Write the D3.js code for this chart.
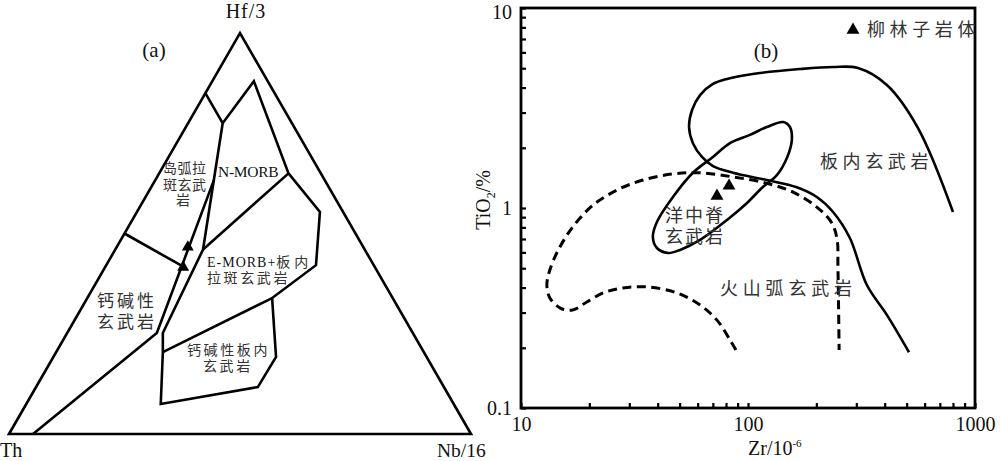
<!DOCTYPE html>
<html><head><meta charset="utf-8">
<script src="https://cdn.jsdelivr.net/npm/d3@7/dist/d3.min.js"></script>
<style>
body{margin:0;background:#fff;}
svg{display:block;}
.lat{font-family:"Liberation Serif","Times New Roman",serif;fill:#111;}
.cjk{font-family:"Noto Sans CJK SC",sans-serif;fill:#333;}
</style></head>
<body><svg id="c" width="1000" height="461"></svg>
<script>
// ---------- (a) Th - Hf/3 - Nb/16 ternary, compositions [Th, Hf/3, Nb/16] in % ----------
const ternaryApexLabels = ["Th", "Hf/3", "Nb/16"];
const ternaryOuterBoundary = [
  [15,85,0],[15,77.5,7.5],[3,88,9],[7,65,28],[5,55.4,39.6],[12.5,42.1,45.4],
  [26.1,33.9,40.0],[32.6,19.2,48.2],[40.3,11.7,48.0],[63.4,7.5,29.1],
  [56.5,20.4,23.1],[54.1,25.2,20.7],[35,46,19],[15,77.5,7.5]
];
const ternaryNmorbEmorb = [[7,65,28],[35,46,19]];
const ternaryEmorbWpb = [[56.5,20.4,23.1],[26.1,33.9,40.0]];
const ternaryArcLine = [[24,63.3,12.7],[55.4,25.2,19.4],[94.8,0,5.2]];
const ternaryIatCab = [[50,50,0],[41.6,41.9,16.5]];
const ternarySamples = [[38,46.6,15.4],[41.5,41.6,16.9]];

// ---------- (b) Zr - TiO2 ----------
const zrTicks = [20,30,40,50,60,70,80,90,100,200,300,400,500,600,700,800,900];
const zrLabels = ["10","100","1000"];
const tiTicks = [0.2,0.3,0.4,0.5,0.6,0.7,0.8,0.9,1,2,3,4,5,6,7,8,9];
const tiLabels = ["0.1","1","10"];
// within-plate basalt boundary [Zr, TiO2]
const wpbZr = [800,561,409,305,237,169,105,80.8,70.1,61.5,56.7,55.0,57.2,62.7,70.1,85.9,121,164,201,237,281,334,409,512];
const wpbTi = [0.955,2.51,4.12,5.01,5.07,4.95,4.68,4.42,4.17,3.67,3.09,2.54,2.11,1.80,1.62,1.50,1.38,1.27,1.135,0.955,0.708,0.412,0.292,0.19];
// MORB closed field
const morbZr = [143,153,156,149,134,116,99,80.8,61.5,50.2,44.4,39.7,38.1,39.7,46.7,57.2,70.1,83.3,102,121,138];
const morbTi = [2.69,2.54,2.19,1.80,1.46,1.27,1.06,0.871,0.692,0.617,0.596,0.631,0.716,0.851,1.135,1.50,1.80,2.11,2.32,2.54,2.69];
// volcanic-arc basalt boundary (dashed)
const vabZr = [88.5,83.3,73.0,61.5,48.7,35.9,28.1,23.0,19.5,16.9,14.9,13.4,13.0,13.4,14.6,16.9,20.8,26.5,34.5,46.7,61.5,85.9,121,158,201,234,247,249,252];
const vabTi = [0.195,0.219,0.275,0.327,0.376,0.403,0.398,0.376,0.339,0.309,0.316,0.355,0.412,0.490,0.617,0.804,1.035,1.23,1.38,1.48,1.50,1.43,1.33,1.20,1.01,0.841,0.692,0.507,0.195];
const sampleZr = [73.0,82.5];
const sampleTi = [1.148,1.29];
const legendLabel = "柳林子岩体";

const svg = d3.select("#c");

// ===== ternary =====
const tHf = d3.scaleLinear().domain([0,100]).range([434,33]);   // vertical from Hf
const tX = d3.scaleLinear().domain([0,100]).range([9,471]);     // horizontal from Nb + Hf/2
const tern = p => { const s = p[0]+p[1]+p[2]; const b = p[1]/s*100, c = p[2]/s*100; return [tX(c + b/2), tHf(b)]; };
const tline = d3.line().x(d=>tern(d)[0]).y(d=>tern(d)[1]);
const ga = svg.append("g");
const stroke = {fill:"none", stroke:"#000", "stroke-width":2.6, "stroke-linejoin":"miter"};
function st(sel, o){ for (const k in o) sel.attr(k,o[k]); return sel; }
st(ga.append("path").attr("d", tline([[100,0,0],[0,100,0],[0,0,100]])+"Z"), stroke);
[ternaryOuterBoundary, ternaryNmorbEmorb, ternaryEmorbWpb, ternaryArcLine, ternaryIatCab].forEach(l =>
  st(ga.append("path").attr("d", tline(l)), stroke));
const tri = d3.symbol(d3.symbolTriangle);
ternarySamples.forEach(p => ga.append("path").attr("d", tri.size(62)()).attr("transform", `translate(${tern(p)})`).attr("fill","#000"));

ga.append("text").attr("class","lat").attr("x",246).attr("y",18).attr("text-anchor","middle").attr("font-size",20).attr("letter-spacing",1).text(ternaryApexLabels[1]);
ga.append("text").attr("class","lat").attr("x",0).attr("y",457).attr("font-size",20).text(ternaryApexLabels[0]);
ga.append("text").attr("class","lat").attr("x",437).attr("y",457).attr("font-size",19.5).text(ternaryApexLabels[2]);
ga.append("text").attr("class","lat").attr("x",154).attr("y",57).attr("text-anchor","middle").attr("font-size",21).text("(a)");

function cjk(g, x, y, t, size, ls, anchor){
  return g.append("text").attr("class","cjk").attr("x",x).attr("y",y).attr("font-size",size)
    .attr("letter-spacing",ls).attr("text-anchor",anchor||"start").text(t);
}
cjk(ga,163,173,"岛弧拉",14,0.5);
cjk(ga,163,190,"斑玄武",14,0.5);
cjk(ga,176,205,"岩",14,0);
ga.append("text").attr("class","lat").attr("x",218).attr("y",177).attr("font-size",15.5).attr("letter-spacing",-0.3).text("N-MORB");
const em = ga.append("text").attr("class","lat").attr("x",207).attr("y",267).attr("font-size",14).attr("letter-spacing",1);
em.append("tspan").text("E-MORB+");
em.append("tspan").attr("class","cjk").attr("letter-spacing",4).text("板内");
cjk(ga,207,283,"拉斑玄武岩",14,2.6);
cjk(ga,97,307,"钙碱性",17,3);
cjk(ga,97,328,"玄武岩",17,3);
cjk(ga,187,355,"钙碱性板内",14,2.6);
cjk(ga,203,371,"玄武岩",14,2.6);

// ===== Zr-TiO2 =====
const x = d3.scaleLog().domain([10,1000]).range([521,975]);
const y = d3.scaleLog().domain([0.1,10]).range([408,8]);
const gb = svg.append("g");
const lineXY = d3.line().x(d=>x(d[0])).y(d=>y(d[1])).curve(d3.curveCatmullRom.alpha(0.5));
const closedXY = d3.line().x(d=>x(d[0])).y(d=>y(d[1])).curve(d3.curveCatmullRomClosed.alpha(0.5));
const zip = (a,b) => a.map((v,i)=>[v,b[i]]);

st(gb.append("path").attr("d", lineXY(zip(vabZr,vabTi))), {fill:"none",stroke:"#000","stroke-width":3,"stroke-dasharray":"9,5.5"});
st(gb.append("path").attr("d", lineXY(zip(wpbZr,wpbTi))), {fill:"none",stroke:"#000","stroke-width":2.6});
st(gb.append("path").attr("d", closedXY(zip(morbZr.slice(0,-1),morbTi.slice(0,-1)))), {fill:"none",stroke:"#000","stroke-width":2.6});

sampleZr.forEach((z,i)=> gb.append("path").attr("d", tri.size(72)()).attr("transform",`translate(${x(z)},${y(sampleTi[i])})`).attr("fill","#000"));

// axes
const ax = gb.append("g").attr("transform","translate(0,408)")
  .call(d3.axisBottom(x).tickValues([10].concat(zrTicks,[1000])).tickSize(-5).tickPadding(9)
    .tickFormat(d => zrLabels.includes(String(d)) ? String(d) : ""));
const ay = gb.append("g").attr("transform","translate(521,0)")
  .call(d3.axisLeft(y).tickValues([0.1].concat(tiTicks,[10])).tickSize(-5).tickPadding(9)
    .tickFormat(d => tiLabels.includes(String(d)) ? String(d) : ""));
[ax,ay].forEach(a=>{
  a.select(".domain").remove();
  a.selectAll(".tick line").attr("stroke","#000").attr("stroke-width",2.2);
  a.selectAll("text").attr("font-family","Liberation Serif, serif").attr("font-size",20).attr("fill","#111");
});
ay.selectAll(".tick text").filter(d => d === 10).attr("dy","0.5em");
gb.append("rect").attr("x",521).attr("y",8).attr("width",454).attr("height",400).attr("fill","none").attr("stroke","#000").attr("stroke-width",2.8);

// axis titles
const xt = gb.append("text").attr("class","lat").attr("x",748).attr("y",455).attr("font-size",20);
xt.append("tspan").text("Zr/10");
xt.append("tspan").attr("dy",-8).attr("font-size",11).text("-6");
const yt = gb.append("text").attr("class","lat").attr("transform","translate(490,200) rotate(-90)").attr("text-anchor","middle").attr("font-size",20);
yt.append("tspan").text("TiO");
yt.append("tspan").attr("dy",5).attr("font-size",12).text("2");
yt.append("tspan").attr("dy",-5).text("/%");

gb.append("text").attr("class","lat").attr("x",766).attr("y",58).attr("text-anchor","middle").attr("font-size",21).text("(b)");
gb.append("path").attr("d", tri.size(72)()).attr("transform","translate(853,30)").attr("fill","#000");
cjk(gb,867,36,legendLabel,18,4.6).attr("fill","#222");
cjk(gb,820,168,"板内玄武岩",18,4.6);
cjk(gb,665,222,"洋中脊",18,2);
cjk(gb,665,243,"玄武岩",18,2);
cjk(gb,720,295,"火山弧玄武岩",18,4.8);
</script></body></html>
